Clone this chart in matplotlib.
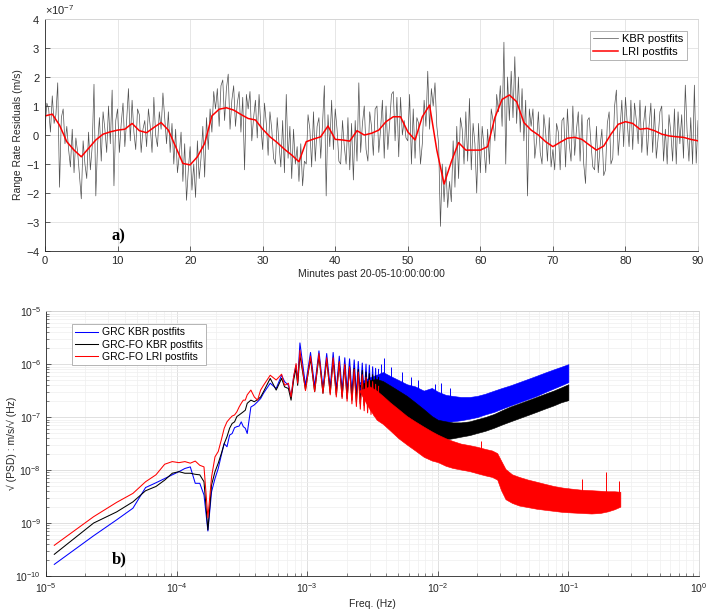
import numpy as np
import matplotlib
matplotlib.use("Agg")
import matplotlib.pyplot as plt
from matplotlib.ticker import ScalarFormatter, LogLocator, NullFormatter

plt.rcParams['font.family'] = ['Liberation Sans', 'DejaVu Sans']
plt.rcParams['mathtext.fontset'] = 'custom'
plt.rcParams['mathtext.rm'] = 'Liberation Sans'
plt.rcParams['mathtext.it'] = 'Liberation Sans:italic'
plt.rcParams['axes.unicode_minus'] = False

# ---------------- panel a) : range rate residuals, units of 1e-7 m/s
kbr_step = 0.25  # minutes between KBR samples
kbr = [
    0.2, 1.1, 0.9, 0.1, 1.35, 0.4, 0.7, 1.8, -1.8, 0.6, 0.9, -0.3, 0.3, -0.5, -1.1, 0.2, -1.3, -0.1, -0.6, -1.4,
    -2.2, -0.2, -1.0, -1.5, 0.1, -1.2, -0.4, 1.75, -2.1, -0.3, 0.6, -0.9, 0.8, 0.2, -0.6, 1.0, -0.3, 1.55, -1.75, 0.5,
    0.9, -0.6, 0.4, 1.1, -0.4, 0.5, 1.6, -0.2, 1.2, 0.1, -0.5, 0.9, 0.7, -0.6, 0.2, 0.5, -0.4, 0.9, 0.3, -0.6,
    1.3, 0.0, -0.4, 0.8, 0.2, 1.45, 0.6, -0.3, 0.8, -0.6, 0.4, -1.0, 0.2, -1.3, -0.7, 0.1, -1.6, -0.3, -2.25, -1.2,
    -0.4, -1.9, -1.0, -2.15, -0.2, -1.5, -0.8, 0.3, -1.45, 0.6, -0.5, 0.9, 0.1, 1.5, 0.9, 1.6, 0.3, 1.7, 1.9, 0.5,
    1.6, 2.1, 0.2, 1.2, 1.7, 0.3, 1.1, 1.5, 0.1, 1.3, -1.2, 1.4, 0.9, 1.5, -0.2, 0.6, 1.2, -0.1, 1.4, 0.3,
    -0.5, 1.1, 0.4, -0.7, 0.8, 0.2, -0.8, -1.0, 0.6, -0.3, -1.1, 0.5, -1.3, 1.4, -0.8, 0.3, -1.5, 0.2, -1.0, -0.4,
    -1.6, -0.3, -1.75, -0.9, -1.0, 0.7, 0.2, -1.1, 0.8, -0.9, 0.3, 0.6, -0.8, 0.4, 1.7, -2.1, 0.7, -0.4, 1.2, -0.5,
    0.9, 0.2, -0.9, -1.0, 0.5, -0.4, -1.0, 0.6, -1.2, 0.4, -1.55, 0.5, -0.9, 1.8, -0.6, 0.4, 1.0, -0.5, -0.9, 0.8,
    0.3, -0.7, 0.9, 1.0, -0.6, 0.2, 1.2, -0.8, 1.0, -0.5, 0.4, 1.4, 1.5, -0.2, 1.3, -0.75, 1.3, 0.0, 0.5, -0.1,
    -0.2, 1.4, -1.0, 0.9, -0.8, 0.6, 0.4, -1.0, -0.3, 1.2, 0.3, 2.2, 0.2, 1.6, 1.0, 1.8, 0.3, -0.3, -3.15, -1.0,
    -2.3, -1.1, -2.5, -1.6, -2.3, -0.2, -1.8, 0.3, -1.5, 0.6, 0.2, -1.0, 0.8, -0.9, 1.26, -1.2, 0.4, -0.3, -2.0, 0.4,
    -1.3, 0.3, -0.4, -1.3, 0.2, -1.0, 0.9, 0.5, -0.2, 1.4, 0.8, 1.7, 0.3, 3.2, -1.0, 2.0, 0.5, 2.2, 0.6, 2.7,
    0.4, 2.0, 0.1, 1.6, -0.2, 1.2, -2.1, 0.9, 0.3, 0.9, -0.8, -0.2, 0.8, -0.6, -1.0, 0.7, 0.1, -0.9, 0.6, -1.1,
    -0.5, -1.2, 0.4, 0.1, -1.2, 0.5, 0.6, -1.1, 0.9, -0.3, -0.9, 1.0, -0.7, 0.2, 0.8, -0.9, 0.7, -1.0, -1.67, 0.5,
    0.6, -0.3, -1.1, -1.2, 0.3, -1.3, -0.4, 0.2, -1.4, -1.2, 0.4, 0.8, -1.0, -0.8, 1.0, 1.55, -0.7, 0.2, 1.2, -0.4,
    1.3, 0.4, -0.4, 1.2, -0.5, 1.1, 0.5, -0.3, 1.2, -0.6, 0.4, 1.0, -0.7, 0.3, 1.1, -0.6, 0.9, -0.8, -0.1, 0.8,
    1.0, -0.9, 0.2, -1.0, 0.7, 0.1, -0.9, 0.9, -1.0, 0.8, -0.3, 0.7, -0.8, 1.72, 0.1, -0.9, 0.6, -1.0, 1.72, -0.97,
    0.5,
]
lri_step = 1.0  # minutes
lri = [
    0.66, 0.72, 0.34, -0.23, -0.52, -0.75, -0.46, -0.17, 0.03, 0.11,
    0.17, 0.20, 0.40, 0.15, 0.08, 0.26, 0.43, 0.17, -0.40, -0.98,
    -1.03, -0.75, -0.29, 0.66, 0.89, 0.94, 0.86, 0.71, 0.57, 0.52,
    0.20, -0.06, -0.26, -0.49, -0.69, -0.92, -0.23, -0.14, -0.06, 0.31,
    -0.15, -0.17, -0.21, 0.15, 0.00, 0.06, 0.17, 0.46, 0.63, 0.63,
    0.11, -0.17, 0.63, 1.03, -0.52, -1.69, -0.92, -0.26, -0.52, -0.52,
    -0.52, -0.40, 0.60, 1.23, 1.38, 1.15, 0.43, 0.17, 0.00, -0.23,
    -0.40, -0.25, -0.11, -0.08, -0.15, -0.34, -0.52, -0.38, 0.03, 0.37,
    0.46, 0.40, 0.20, 0.23, 0.15, 0.03, -0.03, -0.06, -0.08, -0.15,
    -0.20,
]

# ---------------- panel b) : sqrt(PSD), values given as log10
df = 1.0 / 86400.0
k_lo = [1, 2, 3, 4, 5, 6, 7, 8, 9, 10, 11, 12, 13, 14, 15, 16, 17, 18, 19, 20,
        21, 22, 23, 24, 25, 26, 27, 28, 29, 30, 32, 34, 36, 38, 40, 45, 50, 55, 58, 62,
        65, 68, 71, 73, 76]
f_comb = [9.7e-4, 1.06e-3, 1.14e-3, 1.23e-3, 1.32e-3, 1.41e-3, 1.50e-3, 1.58e-3,
          1.67e-3, 1.76e-3, 1.85e-3, 1.94e-3, 2.02e-3, 2.11e-3, 2.20e-3, 2.29e-3,
          2.38e-3, 2.46e-3, 2.55e-3, 2.64e-3, 2.73e-3, 2.82e-3, 2.90e-3, 2.99e-3,
          3.08e-3, 3.17e-3, 3.26e-3, 3.34e-3, 3.43e-3, 3.52e-3]

grc_kbr_lo = [-9.78, -9.24, -8.94, -8.72, -8.33, -8.24, -8.16, -8.09, -8.03, -7.97,
              -7.94, -8.25, -8.25, -8.47, -9.15, -8.41, -8.16, -7.97, -7.72, -7.50,
              -7.56, -7.34, -7.31, -7.20, -7.18, -7.17, -7.09, -7.18, -7.21, -7.31,
              -6.81, -6.77, -6.71, -6.65, -6.55, -6.36, -6.46, -6.21, -6.33, -6.40,
              -6.62, -6.24, -6.02, -6.33, -5.60]
grc_kbr_comb = [-6.40, -5.78, -6.42, -5.75, -6.45, -5.80, -6.45, -5.78, -6.48, -5.85,
                -6.50, -5.88, -6.52, -5.90, -6.55, -5.92, -6.58, -5.95, -6.62, -5.98,
                -6.65, -6.00, -6.68, -6.02, -6.70, -6.05, -6.72, -6.08, -6.75, -6.10]
gfo_kbr_lo = [-9.59, -9.00, -8.79, -8.60, -8.39, -8.31, -8.19, -8.06, -8.03, -8.06,
              -8.06, -8.08, -8.09, -8.22, -9.13, -8.28, -8.03, -7.87, -7.69, -7.50,
              -7.37, -7.21, -7.12, -7.09, -6.99, -6.96, -6.93, -6.90, -6.87, -6.74,
              -6.68, -6.71, -6.67, -6.62, -6.52, -6.27, -6.49, -6.27, -6.43, -6.46,
              -6.68, -6.30, -6.08, -6.40, -5.83]
gfo_kbr_comb = [-6.48, -5.90, -6.52, -5.85, -6.55, -5.92, -6.55, -5.92, -6.58, -5.98,
                -6.62, -6.02, -6.65, -6.05, -6.68, -6.08, -6.72, -6.10, -6.75, -6.12,
                -6.78, -6.15, -6.80, -6.18, -6.82, -6.20, -6.85, -6.22, -6.88, -6.25]
gfo_lri_lo = [-9.42, -8.88, -8.61, -8.44, -8.22, -8.09, -7.89, -7.84, -7.86, -7.84,
              -7.87, -7.83, -7.91, -7.94, -8.90, -8.13, -7.75, -7.65, -7.43, -7.21,
              -7.09, -7.03, -6.98, -6.96, -6.90, -6.81, -6.74, -6.68, -6.68, -6.58,
              -6.49, -6.62, -6.68, -6.49, -6.40, -6.21, -6.30, -6.19, -6.40, -6.36,
              -6.62, -6.24, -5.99, -6.36, -5.74]
gfo_lri_comb = [-6.50, -5.85, -6.52, -5.80, -6.55, -5.88, -6.58, -5.88, -6.62, -5.95,
                -6.65, -6.00, -6.70, -6.05, -6.75, -6.10, -6.80, -6.15, -6.85, -6.20,
                -6.88, -6.25, -6.92, -6.30, -6.95, -6.33, -6.98, -6.38, -7.02, -6.42]

# dense high-frequency part: spread of the spectrum (top / bottom)
f_kbr_band = [2.5e-3, 3.0e-3, 3.4e-3, 3.8e-3, 4.3e-3, 5.0e-3, 5.8e-3, 6.7e-3, 7.8e-3,
              9.0e-3, 1.0e-2, 1.15e-2, 1.3e-2, 1.5e-2, 1.75e-2, 2.0e-2, 2.3e-2, 2.7e-2,
              3.1e-2, 3.6e-2, 4.2e-2, 4.9e-2, 5.7e-2, 6.6e-2, 7.7e-2, 8.8e-2, 1.0e-1]
grc_kbr_top = [-6.35, -6.25, -6.20, -6.15, -6.22, -6.30, -6.38, -6.42, -6.50, -6.45,
               -6.52, -6.58, -6.60, -6.62, -6.62, -6.60, -6.56, -6.50, -6.45, -6.40,
               -6.34, -6.28, -6.22, -6.16, -6.10, -6.05, -6.00]
grc_kbr_bot = [-6.35, -6.55, -6.70, -6.78, -6.85, -6.92, -6.97, -7.02, -7.06, -7.09,
               -7.10, -7.10, -7.08, -7.06, -7.03, -7.00, -6.95, -6.90, -6.84, -6.78,
               -6.72, -6.66, -6.60, -6.53, -6.46, -6.40, -6.34]
gfo_kbr_top = [-6.40, -6.30, -6.28, -6.32, -6.40, -6.50, -6.60, -6.72, -6.85, -6.98,
               -7.05, -7.08, -7.10, -7.10, -7.08, -7.04, -7.00, -6.94, -6.87, -6.80,
               -6.74, -6.68, -6.62, -6.56, -6.50, -6.44, -6.38]
gfo_kbr_bot = [-6.40, -6.65, -6.82, -6.90, -6.98, -7.08, -7.16, -7.24, -7.32, -7.38,
               -7.41, -7.42, -7.40, -7.37, -7.34, -7.30, -7.26, -7.20, -7.14, -7.08,
               -7.02, -6.96, -6.90, -6.84, -6.78, -6.72, -6.68]
f_lri_band = [2.5e-3, 3.0e-3, 3.4e-3, 3.8e-3, 4.3e-3, 5.0e-3, 5.8e-3, 6.7e-3, 7.8e-3,
              9.0e-3, 1.0e-2, 1.15e-2, 1.3e-2, 1.5e-2, 1.75e-2, 2.0e-2, 2.3e-2, 2.6e-2,
              2.85e-2, 3.05e-2, 3.3e-2, 3.7e-2, 4.2e-2, 4.9e-2, 5.7e-2, 6.6e-2, 7.7e-2,
              9.0e-2, 1.05e-1, 1.25e-1, 1.5e-1, 1.75e-1, 2.0e-1, 2.25e-1, 2.5e-1]
gfo_lri_top = [-6.50, -6.42, -6.50, -6.60, -6.72, -6.85, -6.98, -7.08, -7.18, -7.27,
               -7.33, -7.40, -7.45, -7.50, -7.53, -7.56, -7.60, -7.63, -7.68, -7.82,
               -7.98, -8.08, -8.13, -8.18, -8.22, -8.26, -8.30, -8.33, -8.35, -8.37,
               -8.38, -8.39, -8.40, -8.40, -8.41]
gfo_lri_bot = [-6.50, -6.85, -7.05, -7.13, -7.25, -7.40, -7.52, -7.63, -7.75, -7.82,
               -7.85, -7.92, -7.96, -7.99, -8.02, -8.06, -8.10, -8.13, -8.18, -8.38,
               -8.55, -8.62, -8.67, -8.70, -8.73, -8.75, -8.77, -8.79, -8.80, -8.81,
               -8.82, -8.81, -8.78, -8.74, -8.69]
# isolated spikes sticking out of the dense part
grc_spike_f = [3.65e-3, 3.87e-3, 4.4e-3, 5.3e-3, 6.2e-3, 7.1e-3, 9.6e-3, 1.05e-2, 1.25e-2]
grc_spike_top = [-6.00, -5.88, -6.05, -6.15, -6.25, -6.30, -6.38, -6.35, -6.45]
grc_spike_base = [-6.40, -6.40, -6.45, -6.50, -6.55, -6.60, -6.70, -6.70, -6.75]
lri_spike_f = [2.15e-2, 1.27e-1, 1.93e-1, 2.42e-1]
lri_spike_top = [-7.45, -8.16, -8.03, -8.20]
lri_spike_base = [-7.80, -8.50, -8.50, -8.50]

TXT = '#262626'
GRID = '#e2e2e2'


def style_axes(ax, size=8):
    ax.set_axisbelow(True)
    ax.spines['left'].set_color(TXT)
    ax.spines['bottom'].set_color(TXT)
    ax.spines['top'].set_color('#d4d4d4')
    ax.spines['right'].set_color('#d4d4d4')
    for s in ax.spines.values():
        s.set_linewidth(0.6)
    ax.tick_params(which='major', direction='in', length=3.5, width=0.5,
                   colors=TXT, labelsize=size, top=False, right=False)
    ax.tick_params(which='minor', direction='in', length=2, width=0.4,
                   colors=TXT, top=False, right=False)


fig = plt.figure(figsize=(7.09, 6.16), dpi=100)

# ---- top panel
ax1 = fig.add_axes([0.0635, 0.5925, 0.921, 0.3766])
t_kbr = np.arange(len(kbr)) * kbr_step
t_lri = np.arange(len(lri)) * lri_step
ax1.plot(t_kbr, np.array(kbr) * 1e-7, color='#333333', lw=0.5, alpha=0.85,
         label='KBR postfits')
ax1.plot(t_lri, np.array(lri) * 1e-7, color='#ff0000', lw=1.1, label='LRI postfits')
ax1.set_xlim(0, 90)
ax1.set_ylim(-4e-7, 4e-7)
ax1.set_xticks(np.arange(0, 91, 10))
ax1.set_yticks(np.arange(-4, 5, 1) * 1e-7)
fmt = ScalarFormatter(useMathText=True)
ax1.yaxis.set_major_formatter(fmt)
ax1.yaxis.get_offset_text().set_fontsize(8)
ax1.yaxis.get_offset_text().set_color(TXT)
ax1.grid(True, color=GRID, lw=0.6)
style_axes(ax1)
ax1.set_xlabel('Minutes past 20-05-10:00:00:00', fontsize=7.5, color=TXT, labelpad=2)
ax1.set_ylabel('Range Rate Residuals (m/s)', fontsize=7.5, color=TXT, labelpad=2)
leg1 = ax1.legend(loc='upper right', bbox_to_anchor=(0.991, 0.974), fontsize=8,
                  fancybox=False, edgecolor='#a8a8a8', framealpha=1,
                  handlelength=2.2, borderpad=0.3, labelspacing=0.25, handletextpad=0.4)
leg1.get_frame().set_linewidth(0.6)
ax1.text(9.2, -3.5e-7, 'a)', fontsize=12, fontweight='bold',
         family=['Liberation Serif', 'DejaVu Serif'], va='center', ha='left')

# ---- bottom panel
ax2 = fig.add_axes([0.0649, 0.0649, 0.921, 0.430])
ax2.set_xscale('log')
ax2.set_yscale('log')

f_line = np.concatenate([np.array(k_lo) * df, np.array(f_comb)])
series = [
    ('GRC KBR postfits', '#0000ff', grc_kbr_lo + grc_kbr_comb, f_kbr_band, grc_kbr_top, grc_kbr_bot),
    ('GRC-FO KBR postfits', '#000000', gfo_kbr_lo + gfo_kbr_comb, f_kbr_band, gfo_kbr_top, gfo_kbr_bot),
    ('GRC-FO LRI postfits', '#ff0000', gfo_lri_lo + gfo_lri_comb, f_lri_band, gfo_lri_top, gfo_lri_bot),
]
for z, (name, col, vals, fb, top, bot) in enumerate(series):
    ax2.fill_between(fb, 10.0 ** np.array(bot), 10.0 ** np.array(top),
                     color=col, lw=0.4, edgecolor=col, zorder=2 + z)
    ax2.plot(f_line, 10.0 ** np.array(vals), color=col, lw=0.75, label=name, zorder=2 + z)
    if z == 0:
        ax2.vlines(grc_spike_f, 10.0 ** np.array(grc_spike_base), 10.0 ** np.array(grc_spike_top),
                   color=col, lw=0.7, zorder=2)
ax2.vlines(lri_spike_f, 10.0 ** np.array(lri_spike_base), 10.0 ** np.array(lri_spike_top),
           color='#ff0000', lw=0.7, zorder=5)

ax2.set_xlim(1e-5, 1)
ax2.set_ylim(1e-10, 1e-5)
ax2.xaxis.set_major_locator(LogLocator(base=10, numticks=10))
ax2.yaxis.set_major_locator(LogLocator(base=10, numticks=10))
ax2.xaxis.set_minor_locator(LogLocator(base=10, subs=np.arange(2, 10), numticks=20))
ax2.yaxis.set_minor_locator(LogLocator(base=10, subs=np.arange(2, 10), numticks=20))
ax2.xaxis.set_minor_formatter(NullFormatter())
ax2.yaxis.set_minor_formatter(NullFormatter())
ax2.xaxis.get_offset_text().set_visible(False)
ax2.yaxis.get_offset_text().set_visible(False)
ax1.xaxis.get_offset_text().set_visible(False)
ax2.grid(True, which='major', color='#dadada', lw=0.6)
ax2.grid(True, which='minor', color='#efefef', lw=0.5)
style_axes(ax2, size=7.5)
ax2.set_xlabel('Freq. (Hz)', fontsize=7.5, color=TXT, labelpad=3)
ax2.set_ylabel('\u221a (PSD) : m/s/\u221a (Hz)', fontsize=7.5, color=TXT, labelpad=1)
ax2.yaxis.set_label_coords(-0.045, 0.5)
leg2 = ax2.legend(loc='upper left', bbox_to_anchor=(0.032, 0.970), fontsize=7.5,
                  fancybox=False, edgecolor='#a8a8a8', framealpha=1,
                  handlelength=2.2, borderpad=0.3, labelspacing=0.2, handletextpad=0.4)
leg2.get_frame().set_linewidth(0.6)
ax2.text(3.2e-5, 10 ** -9.68, 'b)', fontsize=12, fontweight='bold',
         family=['Liberation Serif', 'DejaVu Serif'], va='center', ha='left')

fig.savefig('out.png', dpi=100)
